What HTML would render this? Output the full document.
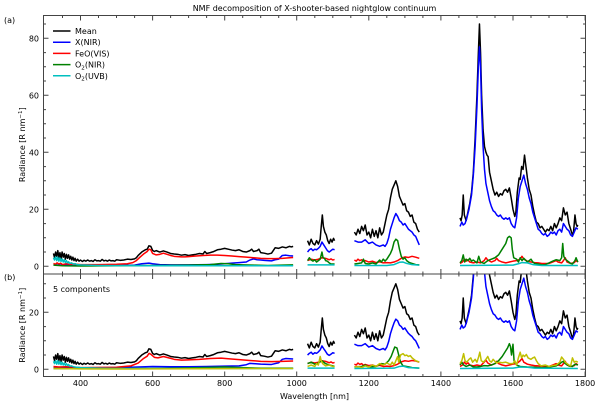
<!DOCTYPE html>
<html><head><meta charset="utf-8"><style>
html,body{margin:0;padding:0;background:#fff;}
svg{display:block;font-family:"DejaVu Sans","Liberation Sans",sans-serif;}
.d{fill:none;stroke-width:1.5;stroke-linejoin:round;}
.d polyline{vector-effect:non-scaling-stroke;}
</style></head><body>
<svg width="600" height="404" viewBox="0 0 600 404" xmlns="http://www.w3.org/2000/svg">
<defs>
<clipPath id="ca"><rect x="43.5" y="15.5" width="542" height="258.5"/></clipPath>
<clipPath id="cb"><rect x="43.5" y="274" width="542" height="102.5"/></clipPath>
</defs>
<text x="314.5" y="11" font-size="8" text-anchor="middle">NMF decomposition of X-shooter-based nightglow continuum</text>

<!-- Panel A -->
<g clip-path="url(#ca)"><g transform="matrix(0.3604 0 0 -2.85 -63.66 266.3)">
<g class="d" stroke="#000">
<polyline points="325,4.5 328,3 331,5 334,3.5 337,5.5 340,3 343,4.8 346,2.8 349,5 352,3.2 355,4.5 358,2.5 361,4.2 364,2.8 367,4 370,2.5 373,3.5 376,2.2 379,3.2 382,2 385,2.8 388,1.8 392,2.5 396,1.8 400,2.2 405,1.7 410,2.1 415,1.8 420,2.2 425,1.8 430,2 435,1.7 440,2.3 445,1.9 450,2 455,1.8 460,2.4 465,1.9 470,2.1 475,1.8 480,2.2 485,1.9 490,2 495,1.8 500,2.3 510,2.1 520,2.2 530,2.5 540,2.4 550,2.6 555,3 560,3.8 570,5 580,5.8 585,6 590,7.2 595,7 600,5.6 605,5.2 610,5.5 620,5 630,5.4 640,5 650,4.5 660,4.3 670,4.2 680,3.9 690,4.1 700,3.8 710,4 720,4.2 730,4.5 740,4.3 745,5.2 750,4.5 760,4.8 770,5.2 780,5.8 790,6 800,6.3 810,6 820,5.7 830,5.5 840,5.8 850,5.2 860,5 870,5.5 875,6 880,5.2 890,5.5 895,6 900,4.8 910,4.6 920,4.3 930,4.6 940,6.5 950,6.3 960,6.8 970,6.5 980,7 985,6.8 990,7"/>
<polyline points="1030,9 1035,7.5 1040,9.5 1045,8 1050,7.5 1055,9 1060,7.8 1065,9.5 1068,14 1071,18 1074,14 1078,12 1082,11 1086,9 1090,8 1094,9.5 1098,8.5 1102,9.8 1105,9"/>
<polyline points="1160,12 1165,11 1170,13 1175,11.5 1180,14 1185,12.5 1190,14.5 1195,11 1200,12 1205,10 1210,13 1215,10.5 1220,12.5 1225,10 1230,13.5 1235,11 1240,12 1245,15 1250,18 1255,20 1260,24 1265,27 1270,28.5 1275,30 1280,28 1285,24.5 1290,23 1295,21.5 1300,22 1305,19.5 1310,19 1315,17.5 1320,18 1325,15.5 1330,15 1335,13 1340,12"/>
<polyline points="1453,17 1456,16 1459,18 1462,25 1465,18 1470,16 1475,19 1480,22 1485,26 1490,33 1495,45 1500,60 1504,75 1507,85 1510,75 1513,60 1517,48 1521,42 1525,40 1528,39 1531,38.5 1535,33 1540,30 1545,27 1550,25 1555,26 1560,24.5 1565,25.5 1570,25 1575,26.5 1580,27 1585,26 1590,27.5 1595,24 1600,20 1605,17.5 1608,19 1612,26 1617,31 1620,30.5 1624,35 1628,34 1632,39 1635,36 1640,31 1645,27 1650,25 1655,21 1660,18 1665,15.5 1670,15 1675,13.5 1680,14 1685,13 1690,12 1695,13 1700,12.5 1705,14 1710,12.5 1715,15 1720,13.5 1725,15 1730,17 1735,16 1740,20.5 1745,18 1750,19 1755,15 1760,13 1765,11 1768,12 1772,18 1775,15 1778,14 1780,14.5"/>
</g>
<g class="d" stroke="#0000ff">
<polyline points="325,0.6 340,0.4 360,0.5 380,0.3 400,0.3 450,0.3 500,0.3 550,0.4 570,0.9 590,1.1 600,0.9 620,0.6 650,0.5 700,0.5 750,0.6 780,0.7 800,0.9 820,1.1 840,1.3 860,1.5 870,2.2 880,2.6 890,2.3 900,2.2 910,2.1 920,2 930,1.9 940,2.3 950,2.5 955,3.2 960,3.8 970,3.9 980,3.7 990,3.6"/>
<polyline points="1030,5 1035,5.8 1040,6.2 1045,5.5 1050,6 1055,5.8 1060,6.3 1065,7 1070,8.5 1075,7.5 1080,6.5 1085,5.5 1090,5 1095,5.5 1100,6 1105,5.8"/>
<polyline points="1160,9 1170,8.5 1180,8.5 1190,9.3 1200,8 1210,8.5 1220,7.5 1230,7 1240,7.5 1245,7 1250,8 1255,10 1260,13 1265,15 1270,17 1275,18.5 1280,17.5 1285,16 1290,15.5 1295,14.5 1300,15 1305,14 1310,13 1315,12.5 1320,12 1325,11 1330,10.5 1335,9 1340,7.5"/>
<polyline points="1453,14 1458,15.5 1462,14.5 1467,15 1472,17 1478,20 1485,25 1490,32 1495,42 1500,56 1504,70 1507,77 1510,70 1513,55 1517,42 1521,34 1525,29 1530,26 1535,23 1540,21 1545,19.5 1550,19 1555,18 1560,17.5 1565,18 1570,17 1575,16.5 1580,17 1585,16.5 1590,17 1595,15 1600,14 1605,13.5 1610,17 1615,24 1620,28 1625,30 1630,32 1635,29 1640,27 1645,24 1650,22 1655,19 1660,17 1665,15 1670,13 1675,12.5 1680,11.5 1685,11 1690,11.5 1695,10.5 1700,11 1705,12 1710,11.5 1715,12 1720,11 1725,12.5 1730,13 1735,12 1740,15 1745,14 1750,13 1755,12.5 1760,11 1765,10.5 1770,12 1775,13.5 1780,13"/>
</g>
<g class="d" stroke="#ff0000">
<polyline points="325,1 330,0.7 335,1.2 340,0.8 345,1.1 350,0.6 360,0.9 370,0.7 380,0.8 400,0.6 450,0.6 500,0.7 530,0.9 545,1.3 555,2 565,3.2 575,4.3 585,5.2 590,6 595,5.8 600,4.5 610,4 620,4.2 630,4.6 640,4.2 650,3.8 660,3.5 670,3.4 680,3.3 690,3.3 700,3.4 720,3.6 740,3.8 760,3.9 780,3.9 800,3.8 820,3.6 840,3.4 860,3.2 880,3 900,2.8 920,2.7 940,2.7 960,2.8 980,3 990,3.1"/>
<polyline points="1030,2 1040,2.5 1050,2.2 1060,2.5 1070,3 1080,2.8 1090,2.3 1095,2.6 1100,2.2 1105,2.4"/>
<polyline points="1160,2.2 1165,1.8 1170,2.5 1175,2 1180,2.3 1185,1.7 1190,2 1200,1.5 1210,1.8 1220,1.3 1230,1.6 1240,1.2 1250,1.3 1260,1.2 1270,1.5 1280,2 1290,2.8 1300,3.3 1310,3.1 1320,3.5 1330,3.2 1340,2.8"/>
<polyline points="1453,1 1460,1.5 1465,2.5 1470,1.8 1475,2.3 1480,1.5 1490,1.2 1500,1.5 1510,1.2 1520,2 1525,3 1530,2.2 1540,1.5 1550,2 1555,2.8 1560,2 1570,1.5 1580,1.2 1590,1.5 1600,1.8 1610,2 1620,2.5 1625,3.5 1630,2.5 1640,1.8 1650,1.5 1660,1.3 1670,1.2 1680,1 1700,1 1710,1.5 1720,2 1725,1.5 1735,1.2 1740,2 1745,3 1750,1.5 1760,1 1770,1.3 1775,2 1780,1.5"/>
</g>
<g class="d" stroke="#008000">
<polyline points="325,0.4 350,0.2 400,0.1 500,0.2 600,0.3 700,0.4 760,0.6 790,1 810,0.9 830,0.6 850,0.5 880,0.4 920,0.3 960,0.4 990,0.5"/>
<polyline points="1030,2 1035,3 1040,2.2 1045,1.8 1050,2.3 1055,1.5 1060,2 1065,2.5 1070,5 1073,3 1077,2.8 1080,2 1085,1.8 1090,1.2 1095,0.8 1100,0.8 1105,0.8"/>
<polyline points="1160,0.8 1170,1 1180,1.2 1185,2.5 1190,1 1200,0.8 1210,1.2 1220,0.8 1230,2.2 1235,1.5 1240,2.5 1245,1.8 1250,2.5 1255,3.5 1260,4.5 1265,6 1270,8.5 1275,9.5 1280,9 1285,6 1290,3.5 1295,2.5 1300,3 1305,2 1310,1.5 1315,1.2 1320,1 1330,0.6 1340,0.5"/>
<polyline points="1453,1.2 1458,2 1462,4 1466,1.5 1470,2.5 1475,2 1480,2.8 1485,1.8 1490,2.2 1500,1.2 1505,3.5 1510,1.5 1520,1 1530,2 1540,2.5 1550,3 1560,4 1570,6 1580,8 1585,10 1590,10.5 1595,10 1598,6 1602,3 1610,2.5 1615,1.5 1620,3 1625,2 1630,2.8 1640,1.5 1650,2.5 1655,1.5 1660,1 1670,0.8 1680,0.5 1690,0.6 1700,1.2 1710,1.8 1720,2.3 1730,2 1735,3 1738,8 1741,3.5 1745,2.5 1755,1.5 1760,1 1765,0.8 1772,2 1775,3 1780,1.5"/>
</g>
<g class="d" stroke="#00bfbf">
<polyline points="325,3 328,2.2 331,3.3 334,2 337,3.2 340,1.8 343,2.9 346,1.7 349,2.6 352,1.5 355,2.3 358,1.3 361,2 364,1.2 367,1.6 370,1 375,1.2 380,0.8 385,0.9 390,0.6 400,0.5 420,0.4 450,0.3 500,0.25 600,0.2 700,0.2 800,0.2 900,0.2 990,0.2"/>
<polyline points="1030,0.5 1105,0.5"/>
<polyline points="1160,0.3 1250,0.3 1270,0.6 1285,1.4 1295,1.5 1305,1 1320,0.6 1340,0.4"/>
<polyline points="1453,0.3 1600,0.4 1615,0.9 1625,1.3 1640,1.2 1655,0.6 1680,0.3 1780,0.3"/>
</g>
</g></g>

<!-- Panel B -->
<g clip-path="url(#cb)"><g transform="matrix(0.3604 0 0 -2.85 -63.66 369.3)">
<g class="d" stroke="#000">
<polyline points="325,4.5 328,3 331,5 334,3.5 337,5.5 340,3 343,4.8 346,2.8 349,5 352,3.2 355,4.5 358,2.5 361,4.2 364,2.8 367,4 370,2.5 373,3.5 376,2.2 379,3.2 382,2 385,2.8 388,1.8 392,2.5 396,1.8 400,2.2 405,1.7 410,2.1 415,1.8 420,2.2 425,1.8 430,2 435,1.7 440,2.3 445,1.9 450,2 455,1.8 460,2.4 465,1.9 470,2.1 475,1.8 480,2.2 485,1.9 490,2 495,1.8 500,2.3 510,2.1 520,2.2 530,2.5 540,2.4 550,2.6 555,3 560,3.8 570,5 580,5.8 585,6 590,7.2 595,7 600,5.6 605,5.2 610,5.5 620,5 630,5.4 640,5 650,4.5 660,4.3 670,4.2 680,3.9 690,4.1 700,3.8 710,4 720,4.2 730,4.5 740,4.3 745,5.2 750,4.5 760,4.8 770,5.2 780,5.8 790,6 800,6.3 810,6 820,5.7 830,5.5 840,5.8 850,5.2 860,5 870,5.5 875,6 880,5.2 890,5.5 895,6 900,4.8 910,4.6 920,4.3 930,4.6 940,6.5 950,6.3 960,6.8 970,6.5 980,7 985,6.8 990,7"/>
<polyline points="1030,9 1035,7.5 1040,9.5 1045,8 1050,7.5 1055,9 1060,7.8 1065,9.5 1068,14 1071,18 1074,14 1078,12 1082,11 1086,9 1090,8 1094,9.5 1098,8.5 1102,9.8 1105,9"/>
<polyline points="1160,12 1165,11 1170,13 1175,11.5 1180,14 1185,12.5 1190,14.5 1195,11 1200,12 1205,10 1210,13 1215,10.5 1220,12.5 1225,10 1230,13.5 1235,11 1240,12 1245,15 1250,18 1255,20 1260,24 1265,27 1270,28.5 1275,30 1280,28 1285,24.5 1290,23 1295,21.5 1300,22 1305,19.5 1310,19 1315,17.5 1320,18 1325,15.5 1330,15 1335,13 1340,12"/>
<polyline points="1453,17 1456,16 1459,18 1462,25 1465,18 1470,16 1475,19 1480,22 1485,26 1490,33 1495,45 1500,60 1504,75 1507,85 1510,75 1513,60 1517,48 1521,42 1525,40 1528,39 1531,38.5 1535,33 1540,30 1545,27 1550,25 1555,26 1560,24.5 1565,25.5 1570,25 1575,26.5 1580,27 1585,26 1590,27.5 1595,24 1600,20 1605,17.5 1608,19 1612,26 1617,31 1620,30.5 1624,35 1628,34 1632,39 1635,36 1640,31 1645,27 1650,25 1655,21 1660,18 1665,15.5 1670,15 1675,13.5 1680,14 1685,13 1690,12 1695,13 1700,12.5 1705,14 1710,12.5 1715,15 1720,13.5 1725,15 1730,17 1735,16 1740,20.5 1745,18 1750,19 1755,15 1760,13 1765,11 1768,12 1772,18 1775,15 1778,14 1780,14.5"/>
</g>
<g class="d" stroke="#0000ff">
<polyline points="325,0.8 350,0.6 400,0.5 500,0.6 560,0.8 600,1 650,0.9 700,0.9 750,1 800,1.1 840,1.2 860,1.6 870,2.1 880,2 900,1.8 930,1.7 950,2.3 960,3.5 970,3.8 990,3.6"/>
<polyline points="1030,5 1035,5.6 1040,6 1045,5.3 1050,5.8 1055,5.6 1060,6.1 1065,6.8 1070,8.2 1075,7.2 1080,6.3 1085,5.3 1090,4.9 1095,5.3 1100,5.8 1105,5.6"/>
<polyline points="1160,8.8 1170,8.3 1180,8.3 1190,9 1200,7.8 1210,8.3 1220,7.3 1230,6.8 1240,7.3 1245,6.8 1250,7.8 1255,9.7 1260,12.5 1265,14.5 1270,16.3 1275,17.6 1280,17 1285,15.5 1290,15 1295,14 1300,14.5 1305,13.5 1310,12.6 1315,12 1320,11.5 1325,10.6 1330,10 1335,8.7 1340,7.3"/>
<polyline points="1453,14 1458,15.5 1462,14.5 1467,15 1472,17 1478,20 1485,25 1490,32 1495,42 1500,56 1504,70 1507,77 1510,70 1513,55 1517,42 1521,34 1525,29 1530,26 1535,23 1540,21 1545,19.5 1550,19 1555,18 1560,17.5 1565,18 1570,17 1575,16.5 1580,17 1585,16.5 1590,17 1595,15 1600,14 1605,13.5 1610,17 1615,24 1620,28 1625,30 1630,32 1635,29 1640,27 1645,24 1650,22 1655,19 1660,17 1665,15 1670,13 1675,12.5 1680,11.5 1685,11 1690,11.5 1695,10.5 1700,11 1705,12 1710,11.5 1715,12 1720,11 1725,12.5 1730,13 1735,12 1740,15 1745,14 1750,13 1755,12.5 1760,11 1765,10.5 1770,12 1775,13.5 1780,13"/>
</g>
<g class="d" stroke="#ff0000">
<polyline points="325,1 340,0.8 360,0.9 400,0.6 500,0.7 540,1.2 560,2.2 575,3.8 585,4.6 590,5.6 595,5.3 605,4.2 615,4 630,4.5 645,4 660,3.5 680,3.2 700,3.3 730,3.5 760,3.8 790,3.9 810,3.7 840,3.4 870,3.1 900,2.8 930,2.7 960,2.8 990,2.9"/>
<polyline points="1030,2 1040,2.5 1050,2.2 1060,2.5 1070,3 1080,2.8 1090,2.3 1095,2.6 1100,2.2 1105,2.4"/>
<polyline points="1160,1.8 1165,1.5 1170,2.2 1175,1.7 1180,2 1185,1.4 1190,1.7 1200,1.3 1210,1.5 1220,1.1 1230,1.4 1240,1 1250,1.1 1260,1 1270,1.3 1280,1.8 1290,2.6 1300,3 1310,2.8 1320,3.1 1330,2.9 1340,2.5"/>
<polyline points="1453,1 1460,1.5 1465,2.5 1470,1.8 1475,2.3 1480,1.5 1490,1.2 1500,1.5 1510,1.2 1520,2.5 1525,3.2 1530,2.2 1540,1.5 1550,2 1555,2.8 1560,2 1570,1.5 1580,1.2 1590,1.5 1600,1.8 1610,2 1620,3 1625,3.8 1630,2.5 1640,1.8 1650,1.5 1660,1.3 1670,1.2 1680,1 1700,1 1710,1.5 1720,2 1725,1.5 1735,1.2 1740,2 1745,2.8 1750,1.5 1760,1 1770,1.3 1775,2 1780,1.5"/>
</g>
<g class="d" stroke="#008000">
<polyline points="325,0.3 400,0.2 600,0.3 700,0.5 800,0.8 850,0.6 900,0.4 990,0.4"/>
<polyline points="1030,2 1040,2.5 1050,1.8 1060,2.2 1070,3 1080,2 1090,1.5 1100,1.2 1105,1"/>
<polyline points="1160,0.8 1180,1 1190,1.5 1200,0.8 1220,1 1235,2 1245,1.8 1255,3 1262,4.5 1268,6.5 1272,7.8 1278,7.5 1283,5 1288,2.5 1295,1.2 1305,1 1320,0.6 1340,0.4"/>
<polyline points="1453,1.5 1458,2.5 1463,1.5 1470,1 1480,1.5 1490,0.8 1500,0.8 1510,1 1520,1.3 1530,1.2 1540,1.5 1550,2 1560,3 1570,4.5 1575,5.5 1580,6.5 1585,7.5 1590,9 1593,8 1596,5 1600,8.8 1603,3 1610,1.5 1620,1 1640,0.8 1660,0.7 1680,0.6 1700,0.8 1720,1.2 1730,2 1735,2.5 1740,2.8 1745,2 1755,1.2 1765,1 1772,1.8 1780,1.5"/>
</g>
<g class="d" stroke="#00bfbf">
<polyline points="325,2.8 328,2 331,3 334,1.8 337,3 340,1.8 343,2.7 346,1.6 349,2.5 352,1.5 355,2.2 358,1.4 361,2 364,1.3 367,1.7 370,1.1 375,1.2 380,0.9 390,0.7 400,0.6 450,0.4 500,0.3 600,0.3 990,0.3"/>
<polyline points="1030,0.4 1105,0.4"/>
<polyline points="1160,0.3 1270,0.4 1285,1 1295,1.1 1310,0.6 1340,0.4"/>
<polyline points="1453,0.3 1600,0.4 1620,0.8 1640,0.7 1660,0.4 1780,0.3"/>
</g>
<g class="d" stroke="#bfbf00">
<polyline points="325,0.3 400,0.15 500,0.1 600,0.15 700,0.2 800,0.25 900,0.3 990,0.3"/>
<polyline points="1030,1 1040,1.5 1050,1 1055,2 1060,1.5 1065,4.5 1068,3 1072,2 1080,1.2 1090,1.5 1100,1 1105,1"/>
<polyline points="1160,0.8 1170,1 1180,0.6 1190,1.2 1200,0.8 1210,1.5 1220,1 1230,2 1240,1.5 1250,2.2 1260,1.5 1265,2.5 1270,1.5 1275,3 1280,4.5 1283,2.5 1288,5 1295,5.5 1300,4.8 1305,5 1310,4.5 1315,4.8 1320,4 1325,3.5 1330,3 1335,2.8 1340,2.5"/>
<polyline points="1453,2 1458,3 1463,5.5 1467,3 1472,2.5 1478,3.5 1483,4 1488,2.5 1495,3.5 1500,2.5 1505,4.5 1508,6 1512,3 1518,2.5 1525,3.5 1530,4.5 1535,3 1540,2.5 1545,3.5 1550,2.8 1555,2.2 1560,2.5 1570,2.3 1580,2.5 1590,2 1600,2 1605,3 1610,1.5 1615,4 1620,6 1624,4 1628,5 1632,4.5 1637,5.2 1642,4 1650,3.5 1655,4 1660,4.3 1665,3 1670,2 1678,1.2 1690,1.5 1700,1 1710,1.3 1720,1.5 1730,2.5 1735,4.3 1740,3.5 1745,2.5 1750,2 1755,1.5 1760,1.2 1765,4 1770,2.5 1775,2.8 1780,2.5"/>
</g>
</g></g>

<!-- Spines -->
<g fill="none" stroke="#444" stroke-width="1">
<rect x="43.5" y="15.5" width="542" height="361"/>
<line x1="43.5" y1="274" x2="585.5" y2="274"/>
</g>
<!-- X ticks major -->
<g fill="none" stroke="#444" stroke-width="1">
<path d="M80.5 274v-5M80.5 15.5v5M80.5 274v5M80.5 376.5v-5
M152.6 274v-5M152.6 15.5v5M152.6 274v5M152.6 376.5v-5
M224.7 274v-5M224.7 15.5v5M224.7 274v5M224.7 376.5v-5
M296.7 274v-5M296.7 15.5v5M296.7 274v5M296.7 376.5v-5
M368.8 274v-5M368.8 15.5v5M368.8 274v5M368.8 376.5v-5
M440.9 274v-5M440.9 15.5v5M440.9 274v5M440.9 376.5v-5
M513 274v-5M513 15.5v5M513 274v5M513 376.5v-5
M585.1 274v-5M585.1 15.5v5M585.1 274v5M585.1 376.5v-5"/>
<path d="M62.5 274v-2.5M62.5 15.5v2.5M62.5 274v2.5M62.5 376.5v-2.5
M98.5 274v-2.5M98.5 15.5v2.5M98.5 274v2.5M98.5 376.5v-2.5
M116.5 274v-2.5M116.5 15.5v2.5M116.5 274v2.5M116.5 376.5v-2.5
M134.6 274v-2.5M134.6 15.5v2.5M134.6 274v2.5M134.6 376.5v-2.5
M170.6 274v-2.5M170.6 15.5v2.5M170.6 274v2.5M170.6 376.5v-2.5
M188.6 274v-2.5M188.6 15.5v2.5M188.6 274v2.5M188.6 376.5v-2.5
M206.6 274v-2.5M206.6 15.5v2.5M206.6 274v2.5M206.6 376.5v-2.5
M242.7 274v-2.5M242.7 15.5v2.5M242.7 274v2.5M242.7 376.5v-2.5
M260.7 274v-2.5M260.7 15.5v2.5M260.7 274v2.5M260.7 376.5v-2.5
M278.7 274v-2.5M278.7 15.5v2.5M278.7 274v2.5M278.7 376.5v-2.5
M314.8 274v-2.5M314.8 15.5v2.5M314.8 274v2.5M314.8 376.5v-2.5
M332.8 274v-2.5M332.8 15.5v2.5M332.8 274v2.5M332.8 376.5v-2.5
M350.8 274v-2.5M350.8 15.5v2.5M350.8 274v2.5M350.8 376.5v-2.5
M386.8 274v-2.5M386.8 15.5v2.5M386.8 274v2.5M386.8 376.5v-2.5
M404.9 274v-2.5M404.9 15.5v2.5M404.9 274v2.5M404.9 376.5v-2.5
M422.9 274v-2.5M422.9 15.5v2.5M422.9 274v2.5M422.9 376.5v-2.5
M458.9 274v-2.5M458.9 15.5v2.5M458.9 274v2.5M458.9 376.5v-2.5
M477 274v-2.5M477 15.5v2.5M477 274v2.5M477 376.5v-2.5
M495 274v-2.5M495 15.5v2.5M495 274v2.5M495 376.5v-2.5
M531 274v-2.5M531 15.5v2.5M531 274v2.5M531 376.5v-2.5
M549 274v-2.5M549 15.5v2.5M549 274v2.5M549 376.5v-2.5
M567.1 274v-2.5M567.1 15.5v2.5M567.1 274v2.5M567.1 376.5v-2.5"/>
<!-- Y ticks panel A -->
<path d="M43.5 266.3h5M585.5 266.3h-5M43.5 209.3h5M585.5 209.3h-5M43.5 152.3h5M585.5 152.3h-5M43.5 95.3h5M585.5 95.3h-5M43.5 38.3h5M585.5 38.3h-5"/>
<path d="M43.5 252h2.5M585.5 252h-2.5M43.5 237.8h2.5M585.5 237.8h-2.5M43.5 223.6h2.5M585.5 223.6h-2.5M43.5 195h2.5M585.5 195h-2.5M43.5 180.8h2.5M585.5 180.8h-2.5M43.5 166.6h2.5M585.5 166.6h-2.5M43.5 138h2.5M585.5 138h-2.5M43.5 123.8h2.5M585.5 123.8h-2.5M43.5 109.6h2.5M585.5 109.6h-2.5M43.5 81h2.5M585.5 81h-2.5M43.5 66.8h2.5M585.5 66.8h-2.5M43.5 52.6h2.5M585.5 52.6h-2.5M43.5 24h2.5M585.5 24h-2.5"/>
<!-- Y ticks panel B -->
<path d="M43.5 369.3h5M585.5 369.3h-5M43.5 312.3h5M585.5 312.3h-5"/>
<path d="M43.5 355h2.5M585.5 355h-2.5M43.5 340.8h2.5M585.5 340.8h-2.5M43.5 326.6h2.5M585.5 326.6h-2.5M43.5 298h2.5M585.5 298h-2.5M43.5 283.8h2.5M585.5 283.8h-2.5"/>
</g>

<!-- tick labels -->
<g font-size="8" fill="#000" text-anchor="end">
<text x="39" y="269.3">0</text>
<text x="39" y="212.3">20</text>
<text x="39" y="155.3">40</text>
<text x="39" y="98.3">60</text>
<text x="39" y="41.3">80</text>
<text x="39" y="372.3">0</text>
<text x="39" y="315.3">20</text>
</g>
<g font-size="8" fill="#000" text-anchor="middle">
<text x="80.5" y="386">400</text>
<text x="152.6" y="386">600</text>
<text x="224.7" y="386">800</text>
<text x="296.7" y="386">1000</text>
<text x="368.8" y="386">1200</text>
<text x="440.9" y="386">1400</text>
<text x="513" y="386">1600</text>
<text x="585.1" y="386">1800</text>
<text x="314.5" y="399">Wavelength [nm]</text>
</g>
<g font-size="8" fill="#000" text-anchor="middle">
<text transform="translate(25 144.7) rotate(-90)">Radiance [R nm<tspan font-size="5.6" dy="-3">−1</tspan><tspan dy="3">]</tspan></text>
<text transform="translate(25 325.2) rotate(-90)">Radiance [R nm<tspan font-size="5.6" dy="-3">−1</tspan><tspan dy="3">]</tspan></text>
</g>
<g font-size="8" fill="#000">
<text x="4" y="23">(a)</text>
<text x="4" y="280">(b)</text>
<text x="53" y="292">5 components</text>
</g>

<!-- Legend -->
<g stroke-width="1.5">
<line x1="53" y1="31" x2="70.5" y2="31" stroke="#000"/>
<line x1="53" y1="42.2" x2="70.5" y2="42.2" stroke="#0000ff"/>
<line x1="53" y1="53.4" x2="70.5" y2="53.4" stroke="#ff0000"/>
<line x1="53" y1="64.6" x2="70.5" y2="64.6" stroke="#008000"/>
<line x1="53" y1="75.8" x2="70.5" y2="75.8" stroke="#00bfbf"/>
</g>
<g font-size="8" fill="#000">
<text x="75" y="34">Mean</text>
<text x="75" y="45.2">X(NIR)</text>
<text x="75" y="56.4">FeO(VIS)</text>
<text x="75" y="67.6">O<tspan font-size="5.6" dy="1.8">2</tspan><tspan dy="-1.8">(NIR)</tspan></text>
<text x="75" y="78.8">O<tspan font-size="5.6" dy="1.8">2</tspan><tspan dy="-1.8">(UVB)</tspan></text>
</g>
</svg>
</body></html>
